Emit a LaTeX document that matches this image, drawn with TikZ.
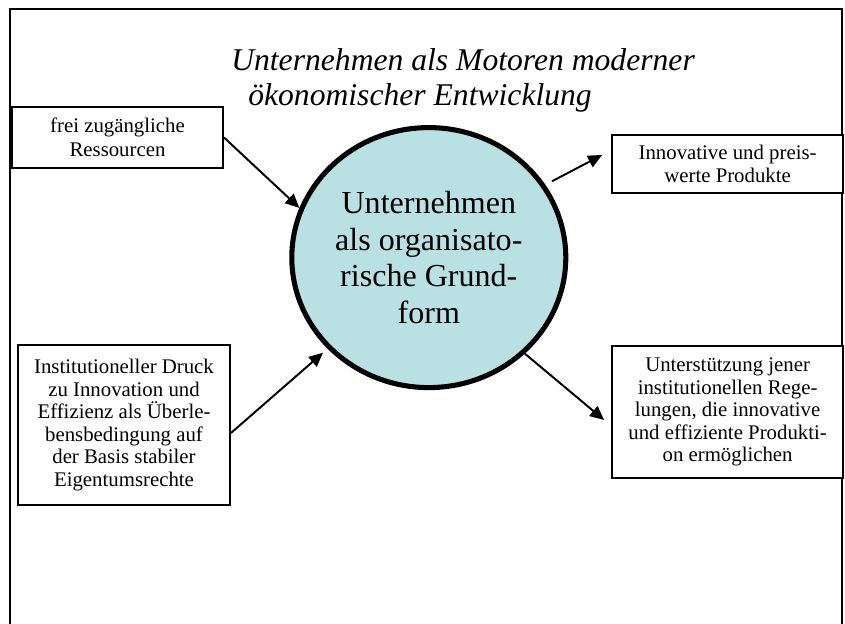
\documentclass[tikz,border=0pt]{standalone}
\usepackage{fontspec}
\setmainfont{Liberation Serif}
\usepackage{tikz}
\usetikzlibrary{shapes.geometric, arrows.meta, positioning, calc}
\definecolor{kernblau}{RGB}{185,224,227}

\begin{document}
\begin{tikzpicture}[
  font=\fontsize{14.8}{16}\selectfont,
  kasten/.style={draw=black, fill=white, line width=1.4pt, align=center, inner sep=0pt},
  kernform/.style={ellipse, draw=black, fill=kernblau, line width=3.6pt, align=center,
                   inner sep=0pt, minimum width=6.85cm, minimum height=6.5cm,
                   font=\fontsize{22.8}{26}\selectfont},
  pfeil/.style={draw=black, line width=1.4pt, -{Triangle[length=10pt,width=9pt]}}
]
\useasboundingbox (0,0) rectangle (21.125,-15.6);

%--------------------------------------------------------------
% Rahmen und Titel
%--------------------------------------------------------------
\draw[draw=black, line width=1.4pt] (0.25,-0.225) rectangle (21.06,-16.5);
\node[align=left, anchor=base west, inner sep=0pt,
      font=\itshape\fontsize{22.5}{25.6}\selectfont] (titel) at (5.775,-2.65)
  {Unternehmen als Motoren moderner\\ \hspace*{0.425cm}ökonomischer Entwicklung};

%--------------------------------------------------------------
% Kern: das Unternehmen
%--------------------------------------------------------------
\node[kernform] (kern) at (10.72,-6.44)
  {Unternehmen\\ als organisato-\\ rische Grund-\\ form};

%--------------------------------------------------------------
% Eingaenge links
%--------------------------------------------------------------
\node[kasten, minimum width=5.275cm, minimum height=1.525cm,
      font=\fontsize{14.8}{17}\selectfont] (ressourcen) at (2.9375,-3.4375)
  {frei zugängliche\\ Ressourcen};
\node[kasten, minimum width=5.3cm, minimum height=4.0cm] (druck) at (3.1,-10.625)
  {Institutioneller Druck\\ zu Innovation und\\ Effizienz als Überle-\\
   bensbedingung auf\\ der Basis stabiler\\ Eigentumsrechte};

%--------------------------------------------------------------
% Ausgaenge rechts
%--------------------------------------------------------------
\node[kasten, minimum width=5.775cm, minimum height=1.45cm] (produkte) at (18.19,-4.1)
  {Innovative und preis-\\ werte Produkte};
\node[kasten, minimum width=5.775cm, minimum height=3.3cm] (regeln) at (18.19,-10.3)
  {Unterstützung jener\\ institutionellen Rege-\\ lungen, die innovative\\
   und effiziente Produkti-\\ on ermöglichen};

%--------------------------------------------------------------
% Pfeile
%--------------------------------------------------------------
\draw[pfeil] (ressourcen.east) -- (kern.159);
\draw[pfeil, shorten >=0.15cm] ([yshift=-0.2cm]druck.east) -- (kern.222);
\draw[pfeil, shorten <=0.19cm] (kern.32) -- ([shift={(-0.225,0.225)}]produkte.west);
\draw[pfeil] (kern.315) -- ([shift={(-0.175,-0.2)}]regeln.west);

\end{tikzpicture}
\end{document}
